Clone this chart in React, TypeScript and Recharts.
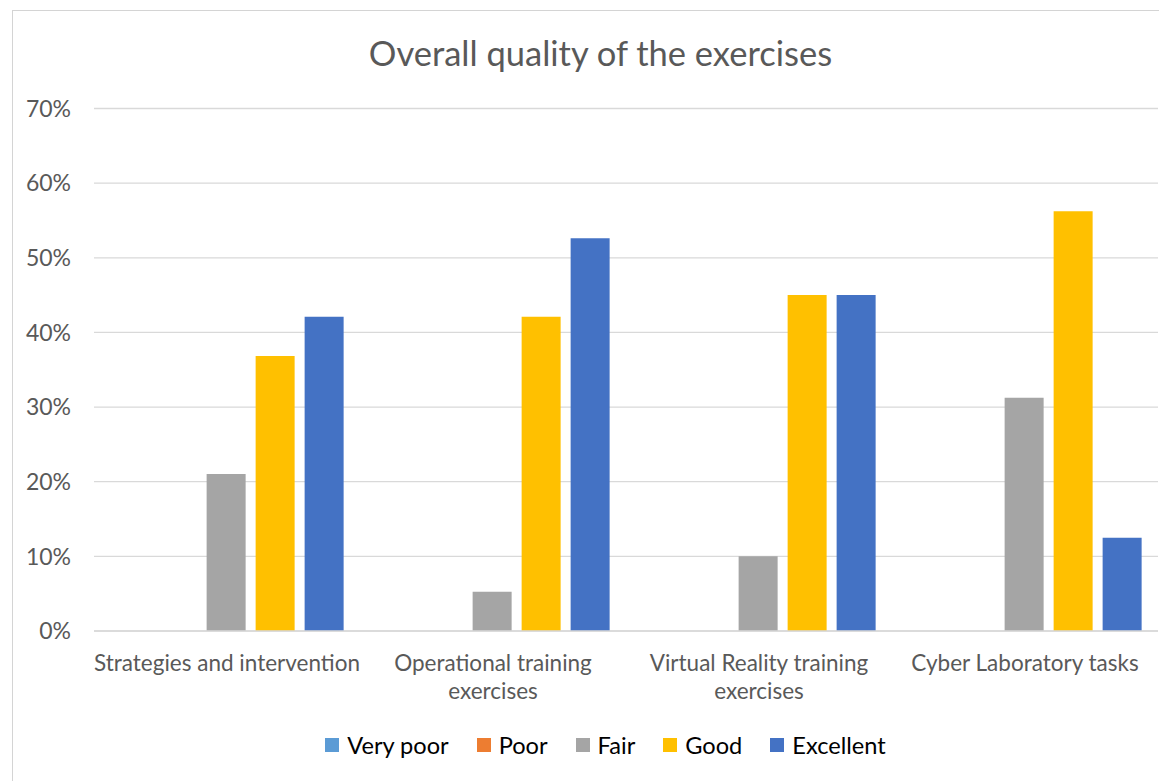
import React from 'react';
import { BarChart, Bar, XAxis, YAxis, CartesianGrid, Legend } from 'recharts';

const categories = [
  'Strategies and intervention',
  'Operational training exercises',
  'Virtual Reality training exercises',
  'Cyber Laboratory tasks',
];
const veryPoor = [0, 0, 0, 0];
const poor = [0, 0, 0, 0];
const fair = [21.05, 5.26, 10, 31.25];
const good = [36.84, 42.11, 45, 56.25];
const excellent = [42.11, 52.63, 45, 12.5];
const yTicks = [0, 10, 20, 30, 40, 50, 60, 70];

const seriesNames = ['Very poor', 'Poor', 'Fair', 'Good', 'Excellent'];
const seriesKeys = ['veryPoor', 'poor', 'fair', 'good', 'excellent'];
const seriesColors = ['#5B9BD5', '#ED7D31', '#A5A5A5', '#FFC000', '#4472C4'];

const data = categories.map((c, i) => ({
  name: c,
  veryPoor: veryPoor[i],
  poor: poor[i],
  fair: fair[i],
  good: good[i],
  excellent: excellent[i],
}));

const FONT = 'Lato, "Open Sans", sans-serif';
const CAT_FONT_SIZE = 22.5;
const CAT_MAX_WIDTH = 272;

let measureCtx: CanvasRenderingContext2D | null = null;
function measure(s: string): number {
  if (!measureCtx) {
    const c = document.createElement('canvas');
    measureCtx = c.getContext('2d');
  }
  if (!measureCtx) return s.length * CAT_FONT_SIZE * 0.5;
  measureCtx.font = `${CAT_FONT_SIZE}px Lato`;
  return measureCtx.measureText(s).width;
}

function wrap(s: string): string[] {
  const words = s.split(' ');
  const lines: string[] = [];
  let cur = '';
  for (const w of words) {
    const t = cur ? cur + ' ' + w : w;
    if (cur && measure(t) > CAT_MAX_WIDTH) {
      lines.push(cur);
      cur = w;
    } else {
      cur = t;
    }
  }
  if (cur) lines.push(cur);
  return lines;
}

const CategoryTick = (props: any) => {
  const { x, y, payload } = props;
  const lines = wrap(String(payload.value));
  return (
    <text
      x={x}
      y={y + 32}
      textAnchor="middle"
      style={{ fontFamily: FONT, fontSize: CAT_FONT_SIZE, fill: '#595959' }}
    >
      {lines.map((l, i) => (
        <tspan key={i} x={x} dy={i === 0 ? 0 : 28}>
          {l}
        </tspan>
      ))}
    </text>
  );
};

const LegendContent = () => (
  <div
    style={{
      height: 40,
      display: 'flex',
      justifyContent: 'center',
      alignItems: 'center',
      fontFamily: FONT,
      fontSize: 23.6,
      color: '#000',
      paddingLeft: 10,
    }}
  >
    {seriesNames.map((n, i) => (
      <div key={n} style={{ display: 'flex', alignItems: 'center', marginRight: i < seriesNames.length - 1 ? 28 : 0 }}>
        <div style={{ width: 14, height: 14, background: seriesColors[i], marginRight: 8 }} />
        <span>{n}</span>
      </div>
    ))}
  </div>
);

export default function App() {
  return (
    <div
      style={{
        position: 'relative',
        marginLeft: 4,
        marginTop: 2,
        width: 1175,
        height: 790,
        border: '1px solid #d4d4d4',
        background: '#fff',
      }}
    >
      <div
        style={{
          position: 'absolute',
          top: 22,
          left: 0,
          width: 1175,
          textAlign: 'center',
          fontFamily: FONT,
          fontSize: 34.5,
          color: '#595959',
          lineHeight: '40px',
        }}
      >
        Overall quality of the exercises
      </div>
      <BarChart
        width={1175}
        height={754}
        data={data}
        margin={{ top: 97.5, right: 30, left: 0, bottom: 0 }}
        barCategoryGap="5.5%"
        barGap={10}
      >
        <CartesianGrid vertical={false} stroke="#d9d9d9" strokeWidth={1.3} />
        <XAxis
          dataKey="name"
          height={94}
          axisLine={{ stroke: '#d9d9d9', strokeWidth: 1.5 }}
          tickLine={false}
          interval={0}
          tick={<CategoryTick />}
        />
        <YAxis
          width={81}
          domain={[0, 70]}
          ticks={yTicks}
          tickFormatter={(v: number) => `${v}%`}
          axisLine={false}
          tickLine={false}
          tickSize={0}
          tickMargin={23}
          tick={{ fontFamily: FONT, fontSize: 23, fill: '#595959' }}
        />
        <Legend verticalAlign="bottom" content={<LegendContent />} wrapperStyle={{ left: 0, width: 1175 }} />
        {seriesKeys.map((k, i) => (
          <Bar key={k} dataKey={k} name={seriesNames[i]} fill={seriesColors[i]} isAnimationActive={false} />
        ))}
      </BarChart>
    </div>
  );
}
